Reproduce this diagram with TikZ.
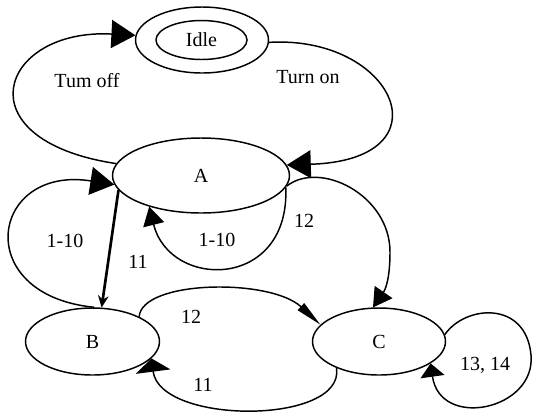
\documentclass[tikz,border=0pt]{standalone}
\usepackage{fontspec}
\setmainfont{Liberation Serif}
\usetikzlibrary{arrows.meta}
\usetikzlibrary{shapes.geometric}

\tikzset{
  state/.style={draw, ellipse, inner sep=0pt, minimum width=100pt, minimum height=50pt},
  bigtip/.style={-{Triangle[length=18pt,width=21pt]}},
  midtip/.style={-{Triangle[length=14pt,width=16pt]}},
}

\begin{document}
\begin{tikzpicture}[x=0.75pt, y=-0.75pt, line width=1.1pt,
  every node/.append style={font=\fontsize{15}{18}\selectfont}]
\useasboundingbox (0,0) rectangle (534,412);

\node[state, minimum width=99.75pt, minimum height=49.5pt] at (202,40) (idle) {};
\node[state, minimum width=68.25pt, minimum height=29.25pt] at (201.5,40) (idlein) {Idle};
\node[state, minimum width=132.75pt, minimum height=56.25pt] at (201,175.5) (A) {A};
\node[state, minimum width=100.5pt, minimum height=50.25pt] at (92.5,341.5) (B) {B};
\node[state, minimum width=99.75pt, minimum height=50.25pt] at (379,341.5) (C) {C};

\node at (87,81) (toff) {Tum off};
\node at (308,77) (ton) {Turn on};
\node at (65,241) (lbla) {1-10};
\node at (138,262) (lblb) {11};
\node at (217,240) (lblc) {1-10};
\node at (304,221) (lbld) {12};
\node at (191,317) (lble) {12};
\node at (203,385) (lblf) {11};
\node at (485,365) (lblg) {13, 14};

% idle <-> A
\draw[bigtip] (A.172) .. controls (-40,140) and (0,28) .. (idle.176);
\draw[bigtip] (idle.-2) .. controls (395,35) and (450,160) .. (A.7);

% loops on A
\draw[bigtip] (B.87) .. controls (-30,295) and (-10,165) .. (A.186);
\draw[midtip] (A.-8) .. controls (290,290) and (170,290) .. (A.211);
\draw[line width=2pt, -{Stealth[length=9pt,width=8pt]}] (A.190) -- (B.75);

% A, B -> C and back
\draw[midtip] (A.-7) .. controls (320,160) and (390,195) .. (390,252)
  .. controls (390,280) and (385,290) .. (C.100);
\draw[-{Triangle[length=20pt,width=7pt]}] (B.28) .. controls (142,280) and (270,278) .. (C.164);
\draw[-{Triangle[length=10pt,width=26pt]}] (C.212) .. controls (345,425) and (160,425) .. (B.-16);
\draw[-{Triangle[length=10pt,width=18pt]}] (C.6) .. controls (465,305) and (526,300) .. (531,355)
  .. controls (536,410) and (440,430) .. (C.-23);
\end{tikzpicture}
\end{document}
